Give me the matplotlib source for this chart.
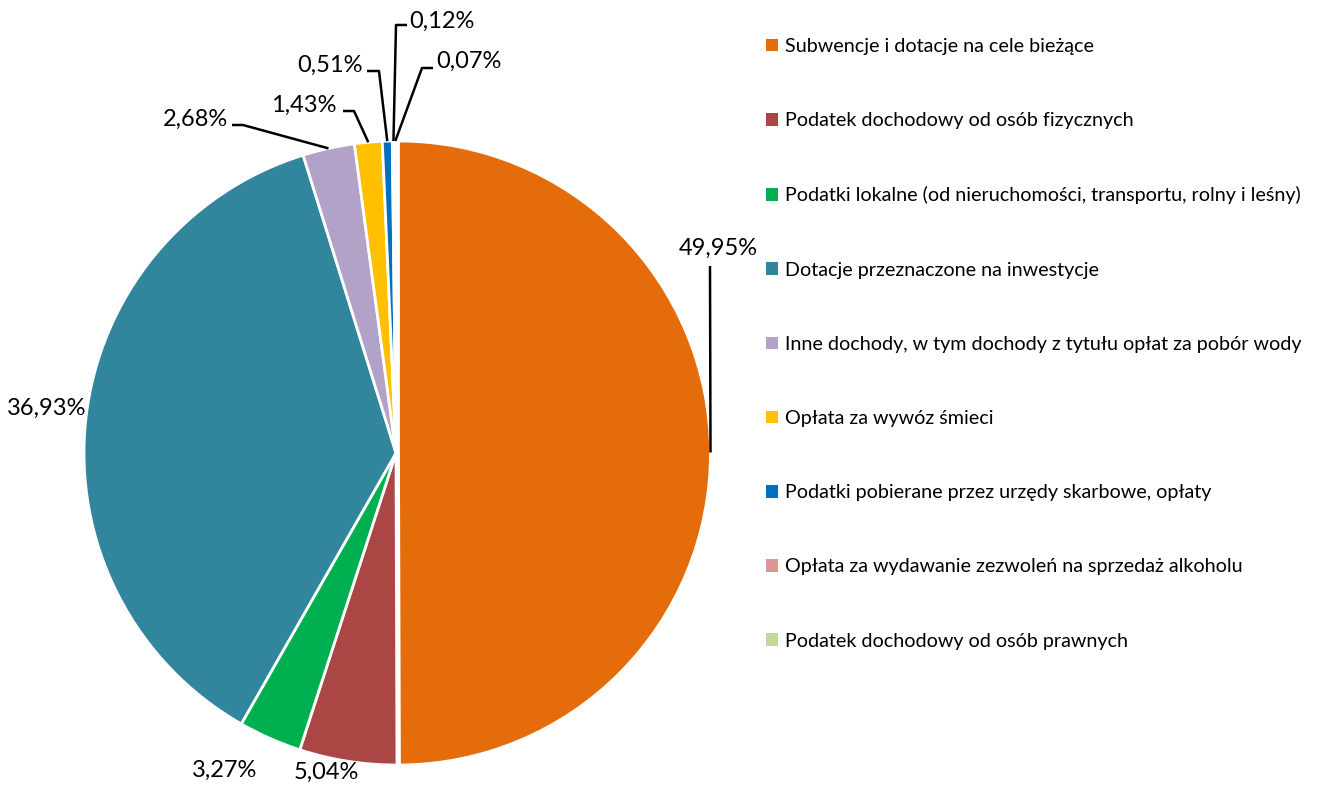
import matplotlib.pyplot as plt
from matplotlib.patches import Patch

# Dane
kategorie = [
    'Subwencje i dotacje na cele bieżące',
    'Podatek dochodowy od osób fizycznych',
    'Podatki lokalne (od nieruchomości, transportu, rolny i leśny)',
    'Dotacje przeznaczone na inwestycje',
    'Inne dochody, w tym dochody z tytułu opłat za pobór wody',
    'Opłata za wywóz śmieci',
    'Podatki pobierane przez urzędy skarbowe, opłaty',
    'Opłata za wydawanie zezwoleń na sprzedaż alkoholu',
    'Podatek dochodowy od osób prawnych',
]
udzialy = [49.95, 5.04, 3.27, 36.93, 2.68, 1.43, 0.51, 0.12, 0.07]
kolory = ['#E46C0A', '#AA4643', '#00B050', '#31859C', '#B2A2C7',
          '#FFC000', '#0070C0', '#D99694', '#C3D69B']

plt.rcParams['font.family'] = ['Lato', 'DejaVu Sans']

W, H = 1323, 785
fig = plt.figure(figsize=(W / 100, H / 100), dpi=100)
ax = fig.add_axes([0, 0, 1, 1])

# os w pikselach (y od dolu)
cx, cy, R = 396, H - 453, 312
explode = [2.5] + [0] * (len(udzialy) - 1)
wedges, _ = ax.pie(udzialy, colors=kolory, startangle=90, counterclock=False,
                   center=(cx, cy), radius=R, explode=explode, frame=False,
                   wedgeprops=dict(edgecolor='white', linewidth=2))
ax.set_xlim(0, W)
ax.set_ylim(0, H)
ax.set_aspect('equal')
ax.axis('off')

# pozycja tekstu (px od lewej, px od gory), wyrownanie, punkty lamania linii
opisy = [
    ((718, 248), 'center', [(710, 266)]),
    ((326, 772), 'center', None),
    ((225, 770), 'center', None),
    ((47, 408), 'center', None),
    ((228, 119), 'right', [(243, 125), (232, 125)]),
    ((337, 105), 'right', [(354, 111), (343, 111)]),
    ((363, 65), 'right', [(379, 71), (367, 71)]),
    ((409, 21), 'left', [(396, 25), (407, 25)]),
    ((436, 61), 'left', [(422, 68), (433, 68)]),
]

import numpy as np
for w, v, (pos, ha, linia) in zip(wedges, udzialy, opisy):
    tekst = f'{v:.2f}'.replace('.', ',') + '%'
    ax.text(pos[0], H - pos[1], tekst, ha=ha, va='center', fontsize=17)
    if linia:
        th = np.deg2rad((w.theta1 + w.theta2) / 2)
        ex = w.center[0] + R * np.cos(th)
        ey = w.center[1] + R * np.sin(th)
        xs = [ex] + [p[0] for p in linia]
        ys = [ey] + [H - p[1] for p in linia]
        ax.plot(xs, ys, color='black', lw=1.8, solid_capstyle='butt')

uchwyty = [Patch(facecolor=k, edgecolor='none') for k in kolory]
fig.legend(uchwyty, kategorie, loc='upper left', bbox_to_anchor=(766 / W, 1 - 38 / H),
           frameon=False, fontsize=14.2, handlelength=0.6, handleheight=0.6,
           handletextpad=0.35, labelspacing=2.9, borderpad=0, borderaxespad=0)

fig.savefig('out.png', dpi=100)
